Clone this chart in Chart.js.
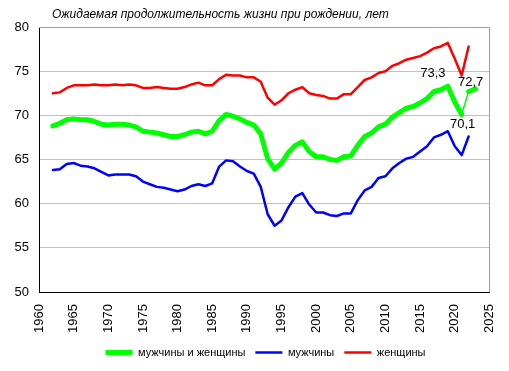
<!DOCTYPE html>
<html>
<head>
<meta charset="utf-8">
<script src="https://cdn.jsdelivr.net/npm/chart.js@4.4.0/dist/chart.umd.min.js"></script>
<style>
  html, body { margin: 0; padding: 0; background: #fff; }
</style>
</head>
<body>
<canvas id="lifeChart" width="509" height="371"></canvas>
<script>
// годы наблюдений
const years = [1962, 1963, 1964, 1965, 1966, 1967, 1968, 1969, 1970, 1971,
  1972, 1973, 1974, 1975, 1976, 1977, 1978, 1979, 1980, 1981,
  1982, 1983, 1984, 1985, 1986, 1987, 1988, 1989, 1990, 1991,
  1992, 1993, 1994, 1995, 1996, 1997, 1998, 1999, 2000, 2001,
  2002, 2003, 2004, 2005, 2006, 2007, 2008, 2009, 2010, 2011,
  2012, 2013, 2014, 2015, 2016, 2017, 2018, 2019, 2020, 2021,
  2022, 2023];

// мужчины и женщины
const total = [68.8, 69.1, 69.5, 69.6, 69.5, 69.5, 69.3, 69.0, 68.9, 69.0,
  69.0, 68.9, 68.7, 68.2, 68.1, 68.0, 67.8, 67.6, 67.6, 67.8,
  68.1, 68.2, 67.9, 68.2, 69.4, 70.1, 69.9, 69.6, 69.2, 68.9,
  67.9, 65.1, 63.9, 64.6, 65.8, 66.6, 67.0, 65.9, 65.3, 65.3,
  65.0, 64.9, 65.3, 65.4, 66.6, 67.6, 68.0, 68.7, 69.0, 69.8,
  70.3, 70.8, 71.0, 71.4, 71.9, 72.7, 72.9, 73.3, 71.5, 70.1,
  72.7, 73.0];

const men = [63.8, 63.9, 64.5, 64.6, 64.3, 64.2, 64.0, 63.6, 63.2, 63.3,
  63.3, 63.3, 63.1, 62.5, 62.2, 61.9, 61.8, 61.6, 61.4, 61.6,
  62.0, 62.2, 62.0, 62.3, 64.2, 64.9, 64.8, 64.2, 63.7, 63.4,
  61.9, 58.8, 57.5, 58.1, 59.6, 60.8, 61.2, 59.9, 59.0, 59.0,
  58.7, 58.6, 58.9, 58.9, 60.4, 61.5, 61.9, 62.9, 63.1, 64.0,
  64.6, 65.1, 65.3, 65.9, 66.5, 67.5, 67.8, 68.2, 66.5, 65.5,
  67.6, null];

const women = [72.5, 72.6, 73.1, 73.4, 73.4, 73.4, 73.5, 73.4, 73.4, 73.5,
  73.4, 73.5, 73.4, 73.1, 73.1, 73.2, 73.1, 73.0, 73.0, 73.2,
  73.5, 73.7, 73.4, 73.4, 74.1, 74.6, 74.5, 74.5, 74.3, 74.3,
  73.8, 72.0, 71.2, 71.7, 72.5, 72.9, 73.2, 72.5, 72.3, 72.2,
  71.9, 71.9, 72.4, 72.4, 73.2, 74.0, 74.3, 74.8, 75.0, 75.6,
  75.9, 76.3, 76.5, 76.7, 77.1, 77.6, 77.8, 78.2, 76.4, 74.5,
  77.8, null];

// подписи значений на общей кривой
const noteYears = [2019, 2021, 2022];

const xTicks = { min: 1960, max: 2025, step: 5 };
const yTicks = { min: 50, max: 80, step: 5 };

const FONT = "'Liberation Sans', Arial, sans-serif";

function toPoints(values) {
  return years.map((y, i) => ({ x: y, y: values[i] }));
}

const thinFrom = years.indexOf(2021); // отрезок 2021-2022 тонкий

const extras = {
  id: 'extras',
  afterLayout(chart) {
    // легенда в оригинале чуть правее центра
    if (chart.legend) {
      chart.legend.left += 19;
      chart.legend.right += 19;
    }
  },
  beforeDatasetsDraw(chart) {
    const { ctx, chartArea: a } = chart;
    ctx.save();
    ctx.strokeStyle = '#a0a0a0';
    ctx.lineWidth = 1;
    ctx.beginPath();
    ctx.moveTo(a.left, Math.round(a.top) + 0.5);
    ctx.lineTo(Math.round(a.right) + 0.5, Math.round(a.top) + 0.5);
    ctx.lineTo(Math.round(a.right) + 0.5, a.bottom);
    ctx.stroke();
    ctx.restore();
  },
  afterDraw(chart) {
    const ctx = chart.ctx;
    const xs = chart.scales.x, ys = chart.scales.y;
    ctx.save();
    ctx.fillStyle = '#000';
    ctx.font = 'italic 12px ' + FONT;
    ctx.textAlign = 'left';
    ctx.textBaseline = 'alphabetic';
    ctx.fillText('Ожидаемая продолжительность жизни при рождении, лет', 52, 18);

    ctx.font = '13px ' + FONT;
    ctx.textAlign = 'center';
    ctx.textBaseline = 'middle';
    const offs = { 2019: [-15, -13], 2021: [1, 10], 2022: [2, -9] };
    noteYears.forEach(yr => {
      const v = total[years.indexOf(yr)];
      const px = xs.getPixelForValue(yr) + offs[yr][0];
      const py = ys.getPixelForValue(v) + offs[yr][1];
      ctx.fillText(v.toFixed(1).replace('.', ','), px, py);
    });
    ctx.restore();
  }
};

const chart = new Chart(document.getElementById('lifeChart').getContext('2d'), {
  type: 'line',
  data: {
    datasets: [
      {
        label: 'мужчины и женщины',
        data: toPoints(total),
        borderColor: '#00ff00',
        backgroundColor: '#00ff00',
        borderWidth: 5,
        segment: {
          borderWidth: c => c.p0DataIndex === thinFrom ? 1.5 : undefined
        }
      },
      {
        label: 'мужчины',
        data: toPoints(men),
        borderColor: '#0000ff',
        backgroundColor: '#0000ff',
        borderWidth: 2.5
      },
      {
        label: 'женщины',
        data: toPoints(women),
        borderColor: '#ff0000',
        backgroundColor: '#ff0000',
        borderWidth: 2.5
      }
    ]
  },
  options: {
    responsive: false,
    animation: false,
    spanGaps: false,
    elements: {
      point: { radius: 0, hoverRadius: 0, pointStyle: 'line' },
      line: { tension: 0, borderJoinStyle: 'round', borderCapStyle: 'round' }
    },
    layout: { padding: { top: 27, right: 16, bottom: 3, left: 0 } },
    scales: {
      x: {
        type: 'linear',
        min: xTicks.min,
        max: xTicks.max,
        ticks: {
          stepSize: xTicks.step,
          autoSkip: false,
          minRotation: 90,
          maxRotation: 90,
          padding: 4,
          color: '#000',
          font: { family: FONT, size: 13 },
          callback: v => String(v)
        },
        grid: { display: false },
        border: { display: true, color: '#000', width: 1 },
        afterFit: s => { s.height = 45; }
      },
      y: {
        min: yTicks.min,
        max: yTicks.max,
        ticks: {
          stepSize: yTicks.step,
          padding: 10,
          color: '#000',
          font: { family: FONT, size: 13 }
        },
        grid: { color: '#c0c0c0', drawTicks: false },
        border: { display: true, color: '#000', width: 1 },
        afterFit: s => { s.width = 39; }
      }
    },
    plugins: {
      title: { display: false },
      tooltip: { enabled: false },
      legend: {
        position: 'bottom',
        labels: {
          usePointStyle: true,
          pointStyleWidth: 27,
          padding: 10,
          color: '#000',
          font: { family: FONT, size: 11 }
        }
      }
    }
  },
  plugins: [extras]
});
</script>
</body>
</html>
